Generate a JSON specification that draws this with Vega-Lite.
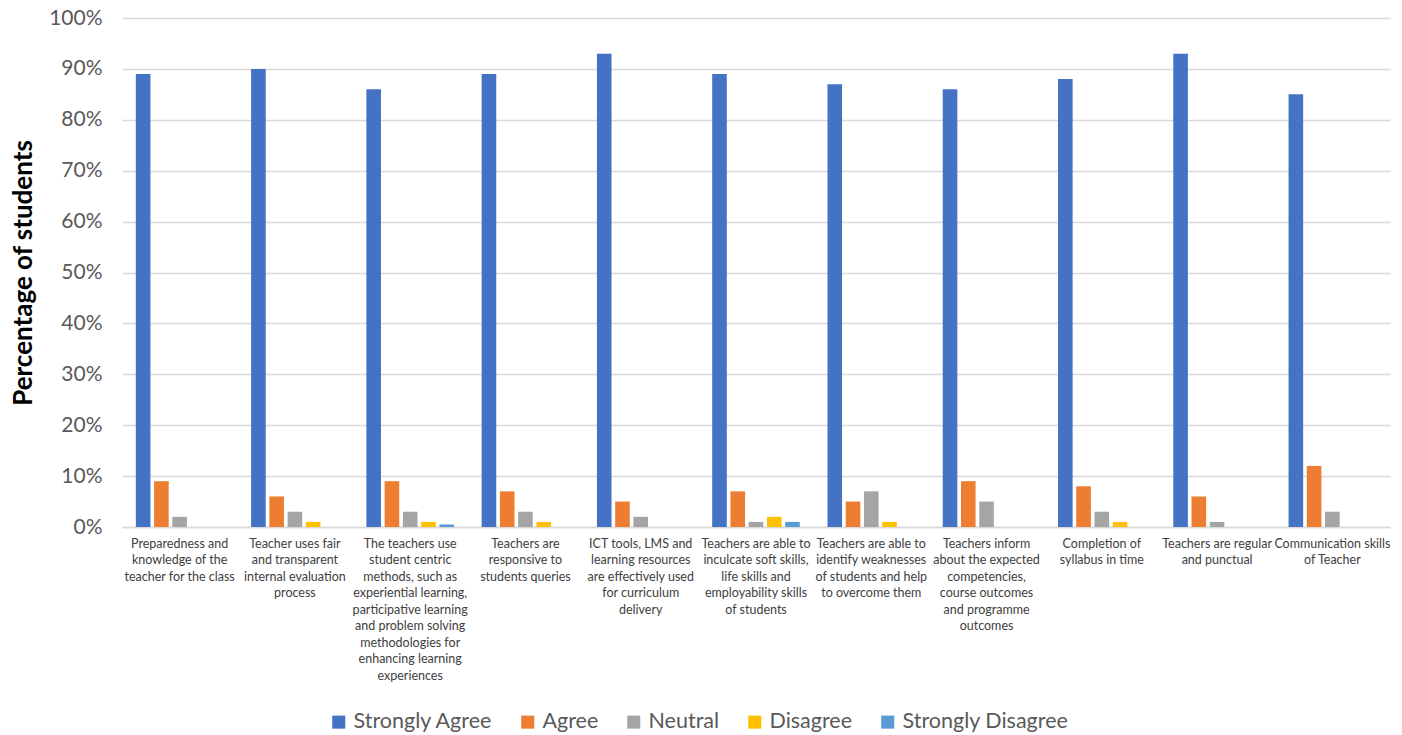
{
  "$schema": "https://vega.github.io/schema/vega-lite/v6.json",
  "autosize": {"type": "none"},
  "padding": {"left": 122, "top": 18, "right": 12, "bottom": 208},
  "width": 1268,
  "height": 509,
  "background": "white",
  "config": {
    "font": "Lato",
    "view": {"stroke": null}
  },
  "data": {
    "values": [
      {"q": "Preparedness and|knowledge of the|teacher for the class", "r": "Strongly Agree", "v": 89},
      {"q": "Preparedness and|knowledge of the|teacher for the class", "r": "Agree", "v": 9},
      {"q": "Preparedness and|knowledge of the|teacher for the class", "r": "Neutral", "v": 2},
      {"q": "Preparedness and|knowledge of the|teacher for the class", "r": "Disagree", "v": 0},
      {"q": "Preparedness and|knowledge of the|teacher for the class", "r": "Strongly Disagree", "v": 0},
      {"q": "Teacher uses fair|and transparent|internal evaluation|process", "r": "Strongly Agree", "v": 90},
      {"q": "Teacher uses fair|and transparent|internal evaluation|process", "r": "Agree", "v": 6},
      {"q": "Teacher uses fair|and transparent|internal evaluation|process", "r": "Neutral", "v": 3},
      {"q": "Teacher uses fair|and transparent|internal evaluation|process", "r": "Disagree", "v": 1},
      {"q": "Teacher uses fair|and transparent|internal evaluation|process", "r": "Strongly Disagree", "v": 0},
      {"q": "The teachers use|student centric|methods, such as|experiential learning,|participative learning|and problem solving|methodologies for|enhancing learning|experiences", "r": "Strongly Agree", "v": 86},
      {"q": "The teachers use|student centric|methods, such as|experiential learning,|participative learning|and problem solving|methodologies for|enhancing learning|experiences", "r": "Agree", "v": 9},
      {"q": "The teachers use|student centric|methods, such as|experiential learning,|participative learning|and problem solving|methodologies for|enhancing learning|experiences", "r": "Neutral", "v": 3},
      {"q": "The teachers use|student centric|methods, such as|experiential learning,|participative learning|and problem solving|methodologies for|enhancing learning|experiences", "r": "Disagree", "v": 1},
      {"q": "The teachers use|student centric|methods, such as|experiential learning,|participative learning|and problem solving|methodologies for|enhancing learning|experiences", "r": "Strongly Disagree", "v": 0.5},
      {"q": "Teachers are|responsive to|students queries", "r": "Strongly Agree", "v": 89},
      {"q": "Teachers are|responsive to|students queries", "r": "Agree", "v": 7},
      {"q": "Teachers are|responsive to|students queries", "r": "Neutral", "v": 3},
      {"q": "Teachers are|responsive to|students queries", "r": "Disagree", "v": 1},
      {"q": "Teachers are|responsive to|students queries", "r": "Strongly Disagree", "v": 0},
      {"q": "ICT tools, LMS and|learning resources|are effectively used|for curriculum|delivery", "r": "Strongly Agree", "v": 93},
      {"q": "ICT tools, LMS and|learning resources|are effectively used|for curriculum|delivery", "r": "Agree", "v": 5},
      {"q": "ICT tools, LMS and|learning resources|are effectively used|for curriculum|delivery", "r": "Neutral", "v": 2},
      {"q": "ICT tools, LMS and|learning resources|are effectively used|for curriculum|delivery", "r": "Disagree", "v": 0},
      {"q": "ICT tools, LMS and|learning resources|are effectively used|for curriculum|delivery", "r": "Strongly Disagree", "v": 0},
      {"q": "Teachers are able to|inculcate soft skills,|life skills and|employability skills|of students", "r": "Strongly Agree", "v": 89},
      {"q": "Teachers are able to|inculcate soft skills,|life skills and|employability skills|of students", "r": "Agree", "v": 7},
      {"q": "Teachers are able to|inculcate soft skills,|life skills and|employability skills|of students", "r": "Neutral", "v": 1},
      {"q": "Teachers are able to|inculcate soft skills,|life skills and|employability skills|of students", "r": "Disagree", "v": 2},
      {"q": "Teachers are able to|inculcate soft skills,|life skills and|employability skills|of students", "r": "Strongly Disagree", "v": 1},
      {"q": "Teachers are able to|identify weaknesses|of students and help|to overcome them", "r": "Strongly Agree", "v": 87},
      {"q": "Teachers are able to|identify weaknesses|of students and help|to overcome them", "r": "Agree", "v": 5},
      {"q": "Teachers are able to|identify weaknesses|of students and help|to overcome them", "r": "Neutral", "v": 7},
      {"q": "Teachers are able to|identify weaknesses|of students and help|to overcome them", "r": "Disagree", "v": 1},
      {"q": "Teachers are able to|identify weaknesses|of students and help|to overcome them", "r": "Strongly Disagree", "v": 0},
      {"q": "Teachers inform|about the expected|competencies,|course outcomes|and programme|outcomes", "r": "Strongly Agree", "v": 86},
      {"q": "Teachers inform|about the expected|competencies,|course outcomes|and programme|outcomes", "r": "Agree", "v": 9},
      {"q": "Teachers inform|about the expected|competencies,|course outcomes|and programme|outcomes", "r": "Neutral", "v": 5},
      {"q": "Teachers inform|about the expected|competencies,|course outcomes|and programme|outcomes", "r": "Disagree", "v": 0},
      {"q": "Teachers inform|about the expected|competencies,|course outcomes|and programme|outcomes", "r": "Strongly Disagree", "v": 0},
      {"q": "Completion of|syllabus in time", "r": "Strongly Agree", "v": 88},
      {"q": "Completion of|syllabus in time", "r": "Agree", "v": 8},
      {"q": "Completion of|syllabus in time", "r": "Neutral", "v": 3},
      {"q": "Completion of|syllabus in time", "r": "Disagree", "v": 1},
      {"q": "Completion of|syllabus in time", "r": "Strongly Disagree", "v": 0},
      {"q": "Teachers are regular|and punctual", "r": "Strongly Agree", "v": 93},
      {"q": "Teachers are regular|and punctual", "r": "Agree", "v": 6},
      {"q": "Teachers are regular|and punctual", "r": "Neutral", "v": 1},
      {"q": "Teachers are regular|and punctual", "r": "Disagree", "v": 0},
      {"q": "Teachers are regular|and punctual", "r": "Strongly Disagree", "v": 0},
      {"q": "Communication skills|of Teacher", "r": "Strongly Agree", "v": 85},
      {"q": "Communication skills|of Teacher", "r": "Agree", "v": 12},
      {"q": "Communication skills|of Teacher", "r": "Neutral", "v": 3},
      {"q": "Communication skills|of Teacher", "r": "Disagree", "v": 0},
      {"q": "Communication skills|of Teacher", "r": "Strongly Disagree", "v": 0}
    ]
  },
  "mark": {"type": "bar"},
  "encoding": {
    "x": {
      "field": "q",
      "type": "nominal",
      "sort": null,
      "scale": {"paddingInner": 0.24, "paddingOuter": 0.12},
      "axis": {
        "title": null,
        "labelExpr": "split(datum.value, '|')",
        "labelAngle": 0,
        "labelBaseline": "top",
        "labelFontSize": 12.5,
        "labelLineHeight": 16.5,
        "labelColor": "#404040",
        "labelPadding": 10,
        "labelLimit": 200,
        "ticks": false,
        "domainColor": "#d9d9d9",
        "domainWidth": 1.5
      }
    },
    "xOffset": {
      "field": "r",
      "type": "nominal",
      "sort": ["Strongly Agree", "Agree", "Neutral", "Disagree", "Strongly Disagree"],
      "scale": {"paddingInner": 0.2}
    },
    "y": {
      "field": "v",
      "type": "quantitative",
      "scale": {"domain": [0, 100]},
      "axis": {
        "title": "Percentage of students",
        "titleFontSize": 26,
        "titleFontWeight": "bold",
        "titleColor": "black",
        "titlePadding": 12,
        "values": [0, 10, 20, 30, 40, 50, 60, 70, 80, 90, 100],
        "labelExpr": "datum.value + '%'",
        "labelFontSize": 21,
        "labelColor": "#595959",
        "labelPadding": 20,
        "ticks": false,
        "domain": false,
        "gridColor": "#d9d9d9",
        "gridWidth": 1.5
      }
    },
    "color": {
      "field": "r",
      "type": "nominal",
      "sort": ["Strongly Agree", "Agree", "Neutral", "Disagree", "Strongly Disagree"],
      "scale": {
        "domain": ["Strongly Agree", "Agree", "Neutral", "Disagree", "Strongly Disagree"],
        "range": ["#4472C4", "#ED7D31", "#A5A5A5", "#FFC000", "#5B9BD5"]
      },
      "legend": {
        "title": null,
        "orient": "none",
        "legendX": 206,
        "legendY": 693,
        "direction": "horizontal",
        "symbolType": "square",
        "symbolSize": 170,
        "symbolStrokeWidth": 0,
        "labelFontSize": 21.5,
        "labelLimit": 400,
        "labelColor": "#595959",
        "labelOffset": 4,
        "columnPadding": 24
      }
    }
  }
}
